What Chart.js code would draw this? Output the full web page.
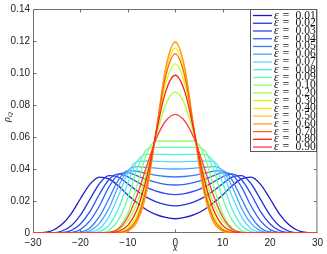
<!DOCTYPE html>
<html lang="en">
<head>
<meta charset="utf-8">
<title>rho_Q</title>
<script src="https://cdnjs.cloudflare.com/ajax/libs/Chart.js/4.4.0/chart.umd.min.js"></script>
<style>
  html, body { margin: 0; padding: 0; background: #fff; }
  canvas { display: block; }
</style>
</head>
<body>
<canvas id="myChart" width="327" height="254"></canvas>
<script>
  // x positions the curves were read at
  var xs = [-30,-28,-26,-24,-22,-20,-18,-16,-14,-12,-10,-8,-6,-4,-2,0,2,4,6,8,10,12,14,16,18,20,22,24,26,28,30];

  var eps = ['0.01','0.02','0.03','0.04','0.05','0.06','0.07','0.08','0.09','0.10',
             '0.20','0.30','0.40','0.50','0.60','0.70','0.80','0.90'];

  var colors = ['#1c1cc8','#2233e0','#2a4cf0','#2f5ff6','#3a78fa','#4aa6ff','#5ed6ff','#50f2dc','#68fca2','#8cff6c',
                '#aaff33','#d2ff00','#f6f000','#ffbe3c','#ff9a1e','#ff5e1e','#ff2410','#ff4040'];

  // rho_Q values, one array per epsilon
  var r01 = [0,.0002,.0014,.0051,.0118,.0214,.0304,.0349,.0338,.0295,.0237,.0187,.0144,.0115,.0097,.0089,.0097,.0115,.0144,.0187,.0237,.0295,.0338,.0349,.0304,.0214,.0118,.0051,.0014,.0002,0];
  var r02 = [0,0,.0001,.0011,.0044,.0112,.0210,.0308,.0358,.0349,.0308,.0262,.0223,.0195,.0178,.0170,.0178,.0195,.0223,.0262,.0308,.0349,.0358,.0308,.0210,.0112,.0044,.0011,.0001,0,0];
  var r03 = [0,0,0,.0002,.0015,.0056,.0133,.0242,.0333,.0370,.0351,.0318,.0285,.0261,.0246,.0240,.0246,.0261,.0285,.0318,.0351,.0370,.0333,.0242,.0133,.0056,.0015,.0002,0,0,0];
  var r04 = [0,0,0,0,.0003,.0022,.0076,.0169,.0287,.0364,.0377,.0357,.0334,.0316,.0304,.0300,.0304,.0316,.0334,.0357,.0377,.0364,.0287,.0169,.0076,.0022,.0003,0,0,0,0];
  var r05 = [0,0,0,0,0,.0005,.0032,.0102,.0214,.0331,.0390,.0386,.0372,.0360,.0353,.0350,.0353,.0360,.0372,.0386,.0390,.0331,.0214,.0102,.0032,.0005,0,0,0,0,0];
  var r06 = [0,0,0,0,0,.0001,.0013,.0060,.0154,.0291,.0390,.0415,.0410,.0405,.0401,.0400,.0401,.0405,.0410,.0415,.0390,.0291,.0154,.0060,.0013,.0001,0,0,0,0,0];
  var r07 = [0,0,0,0,0,0,.0004,.0027,.0101,.0230,.0374,.0447,.0450,.0448,.0446,.0445,.0446,.0448,.0450,.0447,.0374,.0230,.0101,.0027,.0004,0,0,0,0,0,0];
  var r08 = [0,0,0,0,0,0,0,.0008,.0048,.0150,.0312,.0450,.0492,.0492,.0491,.0490,.0491,.0492,.0492,.0450,.0312,.0150,.0048,.0008,0,0,0,0,0,0,0];
  var r09 = [0,0,0,0,0,0,0,.0001,.0016,.0080,.0217,.0404,.0522,.0535,.0535,.0535,.0535,.0535,.0522,.0404,.0217,.0080,.0016,.0001,0,0,0,0,0,0,0];
  var r10 = [0,0,0,0,0,0,0,0,.0003,.0030,.0124,.0302,.0495,.0575,.0575,.0575,.0575,.0575,.0495,.0302,.0124,.0030,.0003,0,0,0,0,0,0,0,0];
  var r20 = [0,0,0,0,0,0,0,0,.0005,.0022,.0075,.0190,.0380,.0610,.0805,.0880,.0805,.0610,.0380,.0190,.0075,.0022,.0005,0,0,0,0,0,0,0,0];
  var r30 = [0,0,0,0,0,0,0,0,0,.0006,.0030,.0115,.0315,.0630,.0935,.1057,.0935,.0630,.0315,.0115,.0030,.0006,0,0,0,0,0,0,0,0,0];
  var r40 = [0,0,0,0,0,0,0,0,0,.0002,.0016,.0082,.0275,.0630,.1000,.1156,.1000,.0630,.0275,.0082,.0016,.0002,0,0,0,0,0,0,0,0,0];
  var r50 = [0,0,0,0,0,0,0,0,0,.0001,.0012,.0072,.0262,.0635,.1035,.1198,.1035,.0635,.0262,.0072,.0012,.0001,0,0,0,0,0,0,0,0,0];
  var r60 = [0,0,0,0,0,0,0,0,0,.0001,.0013,.0074,.0265,.0636,.1030,.1192,.1030,.0636,.0265,.0074,.0013,.0001,0,0,0,0,0,0,0,0,0];
  var r70 = [0,0,0,0,0,0,0,0,0,.0003,.0021,.0095,.0295,.0640,.0980,.1119,.0980,.0640,.0295,.0095,.0021,.0003,0,0,0,0,0,0,0,0,0];
  var r80 = [0,0,0,0,0,0,0,0,.0002,.0011,.0048,.0150,.0350,.0630,.0885,.0986,.0885,.0630,.0350,.0150,.0048,.0011,.0002,0,0,0,0,0,0,0,0];
  var r90 = [0,0,0,0,0,0,0,0,.0004,.0025,.0100,.0240,.0420,.0590,.0700,.0742,.0700,.0590,.0420,.0240,.0100,.0025,.0004,0,0,0,0,0,0,0,0];

  var series = [r01,r02,r03,r04,r05,r06,r07,r08,r09,r10,r20,r30,r40,r50,r60,r70,r80,r90];

  var xTicks = [-20,-10,0,10,20];
  var yTicks = [0.02,0.04,0.06,0.08,0.1,0.12];
  var frameColor = '#6f6f6f';
  var serif = '"Liberation Serif", "DejaVu Serif", serif';

  var datasets = series.map(function (s, i) {
    return {
      label: 'ε = ' + eps[i],
      data: xs.map(function (x, j) { return { x: x, y: s[j] }; }),
      borderColor: colors[i],
      borderWidth: 1.3,
      pointRadius: 0,
      fill: false,
      cubicInterpolationMode: 'monotone',
      order: series.length - i   // later epsilons drawn on top
    };
  });

  // box round the axes with inward ticks, axis titles, legend
  var decor = {
    id: 'decor',
    beforeDatasetsDraw: function (chart) {
      var a = chart.chartArea, ctx = chart.ctx;
      var xsc = chart.scales.x, ysc = chart.scales.y;
      var L = a.left + 0.5, R = a.right - 0.5, T = a.top + 0.5, B = a.bottom - 0.5;
      ctx.save();
      ctx.strokeStyle = frameColor;
      ctx.lineWidth = 1;
      ctx.beginPath();
      ctx.rect(L, T, R - L, B - T);
      xTicks.forEach(function (v) {
        var px = Math.round(xsc.getPixelForValue(v)) + 0.5;
        ctx.moveTo(px, B); ctx.lineTo(px, B - 3);
        ctx.moveTo(px, T); ctx.lineTo(px, T + 3);
      });
      yTicks.forEach(function (v) {
        var py = Math.round(ysc.getPixelForValue(v)) + 0.5;
        ctx.moveTo(L, py); ctx.lineTo(L + 3, py);
        ctx.moveTo(R, py); ctx.lineTo(R - 3, py);
      });
      ctx.stroke();
      ctx.restore();
    },
    afterDraw: function (chart) {
      var ctx = chart.ctx;
      ctx.save();

      // x title
      ctx.fillStyle = '#222';
      ctx.font = 'italic 10px ' + serif;
      ctx.textAlign = 'center';
      ctx.textBaseline = 'middle';
      ctx.fillText('x', chart.scales.x.getPixelForValue(0), 248);

      // y title rho_Q, rotated
      ctx.save();
      ctx.translate(10, 122);
      ctx.rotate(-Math.PI / 2);
      ctx.textAlign = 'left';
      ctx.textBaseline = 'alphabetic';
      ctx.font = 'italic 10px ' + serif;
      ctx.fillText('ρ', 0, 0);
      var w = ctx.measureText('ρ').width;
      ctx.font = 'italic 7px ' + serif;
      ctx.fillText('Q', w, 2);
      ctx.restore();

      // legend
      var bx = 250.5, by = 9.5, bw = 66, bh = 142;
      ctx.fillStyle = '#fff';
      ctx.fillRect(bx, by, bw, bh);
      ctx.strokeStyle = '#5a5a5a';
      ctx.lineWidth = 1;
      ctx.strokeRect(bx, by, bw, bh);
      ctx.textAlign = 'left';
      ctx.textBaseline = 'middle';
      ctx.fillStyle = '#111';
      eps.forEach(function (e, i) {
        var y = 15.5 + i * 7.74;
        ctx.strokeStyle = colors[i];
        ctx.lineWidth = 1.3;
        ctx.beginPath();
        ctx.moveTo(253, y);
        ctx.lineTo(272, y);
        ctx.stroke();
        ctx.font = 'italic 12px ' + serif;
        ctx.fillText('ε', 274, y);
        ctx.font = '12px ' + serif;
        ctx.fillText('=', 282.5, y);
        ctx.font = '11.5px ' + serif;
        ctx.fillText(e, 295.5, y);
      });
      ctx.restore();
    }
  };

  var tickFont = { family: '"Liberation Sans", Arial, sans-serif', size: 10 };

  new Chart(document.getElementById('myChart').getContext('2d'), {
    type: 'line',
    data: { datasets: datasets },
    options: {
      responsive: false,
      animation: false,
      events: [],
      layout: { padding: { top: 7, right: 8, left: 0, bottom: 0 } },
      plugins: { legend: { display: false }, tooltip: { enabled: false } },
      scales: {
        x: {
          type: 'linear',
          min: -30, max: 30,
          grid: { display: false, drawTicks: false },
          border: { display: false },
          ticks: {
            stepSize: 10, padding: 4, color: '#222', font: tickFont,
            maxRotation: 0, autoSkip: false,
            callback: function (v) { return String(v).replace('-', '\u2212'); }
          },
          afterFit: function (s) { s.height = 21; }
        },
        y: {
          min: 0, max: 0.14,
          grid: { display: false, drawTicks: false },
          border: { display: false },
          ticks: { stepSize: 0.02, padding: 3, color: '#222', font: tickFont },
          afterFit: function (s) { s.width = 33; }
        }
      }
    },
    plugins: [decor]
  });
</script>
</body>
</html>
